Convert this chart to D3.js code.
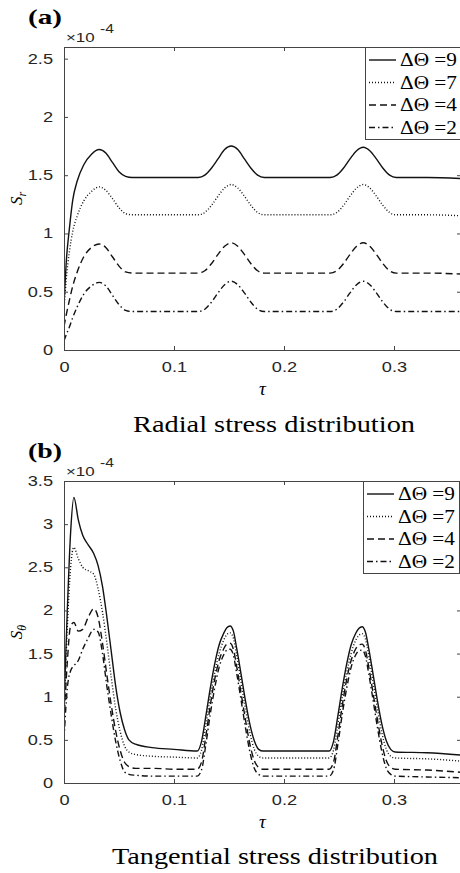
<!DOCTYPE html>
<html>
<head>
<meta charset="utf-8">
<script src="https://cdn.jsdelivr.net/npm/d3@7"></script>
<style>
  body { margin: 0; background: #fff; }
  svg { display: block; }
</style>
</head>
<body>
<div id="chart"></div>
<script>
// ---- data (values in units of 1e-4) ----
var legendLabels = ["\u0394\u0398 =9", "\u0394\u0398 =7", "\u0394\u0398 =4", "\u0394\u0398 =2"];
var xTicks = [0, 0.1, 0.2, 0.3];
var yTicksA = [0, 0.5, 1, 1.5, 2, 2.5];
var yTicksB = [0, 0.5, 1, 1.5, 2, 2.5, 3, 3.5];

var tauA = [0, 0.002, 0.005, 0.008, 0.012, 0.018, 0.025, 0.032, 0.038, 0.044, 0.05, 0.056, 0.062,
  0.09,
  0.122, 0.128, 0.134, 0.14, 0.146, 0.152, 0.158, 0.164, 0.17, 0.176, 0.182,
  0.21,
  0.242, 0.248, 0.254, 0.26, 0.266, 0.272, 0.278, 0.284, 0.29, 0.296, 0.302,
  0.33, 0.365];
var radial9 = [0.40, 0.75, 1.05, 1.29, 1.45, 1.59, 1.68, 1.72, 1.69, 1.61, 1.53, 1.49, 1.48,
  1.48,
  1.48, 1.50, 1.56, 1.64, 1.72, 1.75, 1.72, 1.64, 1.56, 1.50, 1.48,
  1.48,
  1.48, 1.50, 1.56, 1.64, 1.71, 1.74, 1.71, 1.64, 1.56, 1.50, 1.48,
  1.48, 1.47];
var radial7 = [0.35, 0.60, 0.85, 1.02, 1.15, 1.28, 1.36, 1.40, 1.37, 1.30, 1.22, 1.17, 1.16,
  1.16,
  1.16, 1.18, 1.24, 1.32, 1.39, 1.42, 1.39, 1.32, 1.24, 1.18, 1.16,
  1.16,
  1.16, 1.18, 1.24, 1.32, 1.39, 1.42, 1.39, 1.32, 1.24, 1.18, 1.16,
  1.16, 1.15];
var radial4 = [0.20, 0.30, 0.43, 0.55, 0.67, 0.80, 0.88, 0.91, 0.88, 0.80, 0.72, 0.67, 0.66,
  0.66,
  0.66, 0.68, 0.74, 0.82, 0.89, 0.92, 0.89, 0.82, 0.74, 0.68, 0.66,
  0.66,
  0.66, 0.68, 0.74, 0.82, 0.89, 0.92, 0.89, 0.82, 0.74, 0.68, 0.66,
  0.66, 0.65];
var radial2 = [0.08, 0.13, 0.20, 0.28, 0.37, 0.48, 0.55, 0.58, 0.55, 0.47, 0.39, 0.34, 0.33,
  0.33,
  0.33, 0.35, 0.41, 0.49, 0.56, 0.59, 0.56, 0.49, 0.41, 0.35, 0.33,
  0.33,
  0.33, 0.35, 0.41, 0.49, 0.56, 0.59, 0.56, 0.49, 0.41, 0.35, 0.33,
  0.33, 0.33];

var tauB = [0, 0.003, 0.006, 0.009, 0.013, 0.017, 0.022, 0.027, 0.031, 0.035, 0.039, 0.043, 0.047,
  0.051, 0.055, 0.059, 0.065, 0.08, 0.1, 0.121,
  0.125, 0.129, 0.133, 0.137, 0.141, 0.145, 0.148, 0.151, 0.154, 0.157, 0.161, 0.165, 0.169, 0.173, 0.177, 0.181,
  0.21, 0.241,
  0.245, 0.249, 0.253, 0.257, 0.261, 0.265, 0.268, 0.271, 0.274, 0.277, 0.281, 0.285, 0.289, 0.293, 0.297, 0.301,
  0.33, 0.365];
var tang9 = [0.9, 2.0, 2.9, 3.31, 3.05, 2.87, 2.76, 2.66, 2.52, 2.28, 1.92, 1.52, 1.12,
  0.82, 0.62, 0.50, 0.45, 0.41, 0.39, 0.37,
  0.48, 0.78, 1.10, 1.38, 1.60, 1.73, 1.80, 1.82, 1.76, 1.56, 1.26, 0.95, 0.68, 0.49, 0.39, 0.37,
  0.37, 0.37,
  0.48, 0.78, 1.10, 1.38, 1.60, 1.73, 1.79, 1.81, 1.75, 1.56, 1.26, 0.95, 0.68, 0.49, 0.39, 0.36,
  0.35, 0.32];
var tang7 = [0.8, 1.8, 2.5, 2.73, 2.60, 2.50, 2.46, 2.42, 2.25, 1.98, 1.62, 1.22, 0.86,
  0.60, 0.43, 0.36, 0.33, 0.31, 0.30, 0.29,
  0.38, 0.68, 1.00, 1.28, 1.50, 1.65, 1.72, 1.74, 1.68, 1.48, 1.17, 0.86, 0.58, 0.39, 0.31, 0.29,
  0.29, 0.29,
  0.38, 0.68, 1.00, 1.28, 1.50, 1.65, 1.71, 1.73, 1.67, 1.48, 1.17, 0.86, 0.58, 0.39, 0.31, 0.29,
  0.28, 0.25];
var tang4 = [0.7, 1.4, 1.82, 1.86, 1.76, 1.78, 1.92, 2.02, 1.92, 1.62, 1.25, 0.90, 0.60,
  0.38, 0.24, 0.19, 0.17, 0.17, 0.16, 0.16,
  0.24, 0.55, 0.90, 1.20, 1.42, 1.55, 1.61, 1.62, 1.55, 1.35, 1.04, 0.73, 0.45, 0.26, 0.18, 0.16,
  0.16, 0.16,
  0.24, 0.55, 0.90, 1.20, 1.42, 1.55, 1.60, 1.61, 1.54, 1.35, 1.04, 0.73, 0.45, 0.26, 0.18, 0.16,
  0.15, 0.12];
var tang2 = [0.5, 1.1, 1.30, 1.36, 1.42, 1.55, 1.68, 1.78, 1.75, 1.50, 1.12, 0.78, 0.48,
  0.26, 0.13, 0.10, 0.09, 0.08, 0.08, 0.08,
  0.15, 0.45, 0.80, 1.10, 1.34, 1.48, 1.54, 1.55, 1.48, 1.27, 0.96, 0.64, 0.36, 0.17, 0.10, 0.08,
  0.08, 0.08,
  0.15, 0.45, 0.80, 1.10, 1.34, 1.48, 1.53, 1.54, 1.47, 1.27, 0.96, 0.64, 0.36, 0.17, 0.10, 0.08,
  0.07, 0.06];

var dashes = [null, "1,2", "7,4", "6,3,1.5,3"];
var sansFont = "'Liberation Sans', Arial, Helvetica, sans-serif";
var serifFont = "'Liberation Serif', 'Times New Roman', Times, serif";

var width = 460, height = 873;
var svg = d3.select("#chart").append("svg")
    .attr("width", width)
    .attr("height", height);

// the figure is stretched sideways, so widen text to match
function widen(sel, k) {
    sel.each(function() {
        var len = this.getComputedTextLength();
        if (len > 0) {
            d3.select(this).attr("textLength", len * k).attr("lengthAdjust", "spacingAndGlyphs");
        }
    });
}

function panel(opt) {
    var left = 64, right = 461;
    var x = d3.scaleLinear().domain([0, (right - left) / 1100]).range([left, right]);
    var y = d3.scaleLinear().domain([0, opt.ymax]).range([opt.bottom, opt.top]);
    var g = svg.append("g");

    g.append("clipPath").attr("id", "clip" + opt.id)
        .append("rect")
        .attr("x", left).attr("y", opt.top)
        .attr("width", right - left).attr("height", opt.bottom - opt.top);

    var line = d3.line()
        .x(function(d) { return x(d[0]); })
        .y(function(d) { return y(d[1]); })
        .curve(d3.curveMonotoneX);

    var plot = g.append("g").attr("clip-path", "url(#clip" + opt.id + ")");
    opt.series.forEach(function(vals, i) {
        plot.append("path")
            .datum(vals.map(function(v, k) { return [opt.tau[k], v]; }))
            .attr("d", line)
            .attr("fill", "none")
            .attr("stroke", "#111")
            .attr("stroke-width", 1.4)
            .attr("stroke-dasharray", dashes[i]);
    });

    // axes (box with inner ticks)
    var fmt = function(d) { return d3.format("")(d); };
    function styleAxis(sel) {
        sel.selectAll(".domain").attr("stroke", "#444").attr("stroke-width", 1);
        sel.selectAll(".tick line").attr("stroke", "#444");
        sel.selectAll(".tick text")
            .attr("font-family", sansFont)
            .attr("font-size", 14)
            .attr("fill", "#262626")
            .call(widen, 1.3);
    }
    g.append("g").attr("transform", "translate(" + left + ",0)")
        .call(d3.axisLeft(y).tickValues(opt.yticks).tickFormat(fmt).tickSizeInner(-4).tickSizeOuter(0).tickPadding(11))
        .call(styleAxis);
    g.append("g").attr("transform", "translate(" + right + ",0)")
        .call(d3.axisRight(y).tickValues(opt.yticks).tickFormat("").tickSizeInner(-4).tickSizeOuter(0))
        .call(styleAxis);
    g.append("g").attr("transform", "translate(0," + opt.bottom + ")")
        .call(d3.axisBottom(x).tickValues(xTicks).tickFormat(fmt).tickSizeInner(-4).tickSizeOuter(0).tickPadding(12))
        .call(styleAxis);
    g.append("g").attr("transform", "translate(0," + opt.top + ")")
        .call(d3.axisTop(x).tickValues(xTicks).tickFormat("").tickSizeInner(-4).tickSizeOuter(0))
        .call(styleAxis);

    // exponent
    var ex = g.append("text")
        .attr("x", left + 2).attr("y", opt.top - 5)
        .attr("font-family", sansFont)
        .attr("font-size", 13).attr("fill", "#262626");
    ex.append("tspan").attr("class", "ex").text("\u00d710");
    ex.append("tspan").attr("class", "ex").attr("x", left + 36).attr("dy", -9).attr("font-size", 12).text("-4");
    ex.selectAll("tspan.ex").call(widen, 1.3);

    // panel letter
    g.append("text")
        .attr("x", 28).attr("y", opt.top - 23)
        .attr("font-family", serifFont)
        .attr("font-weight", "bold")
        .attr("font-size", 21)
        .attr("textLength", 34)
        .attr("lengthAdjust", "spacingAndGlyphs")
        .text(opt.letter);

    // y label
    var yl = g.append("text")
        .attr("transform", "translate(22," + ((opt.top + opt.bottom) / 2) + ") rotate(-90)")
        .attr("text-anchor", "middle")
        .attr("font-family", serifFont)
        .attr("font-style", "italic")
        .attr("font-size", 17);
    yl.append("tspan").text("S");
    yl.append("tspan").attr("dy", 4).attr("font-size", 12).text(opt.sub);

    // x label
    g.append("text")
        .attr("x", (left + right) / 2).attr("y", opt.bottom + 45)
        .attr("text-anchor", "middle")
        .attr("font-family", serifFont)
        .attr("font-style", "italic")
        .attr("font-size", 19)
        .text("\u03c4");

    // caption
    g.append("text")
        .attr("x", opt.capX).attr("y", opt.capY)
        .attr("font-family", serifFont)
        .attr("font-size", 23)
        .attr("textLength", opt.capW)
        .attr("lengthAdjust", "spacingAndGlyphs")
        .text(opt.caption);

    // legend
    var lg = g.append("g");
    lg.append("rect")
        .attr("x", opt.legX + 0.5).attr("y", opt.top + 0.5)
        .attr("width", opt.legW).attr("height", 92)
        .attr("fill", "#fff").attr("stroke", "#444").attr("stroke-width", 1);
    legendLabels.forEach(function(lab, i) {
        var cy = opt.top + 13 + i * 22.5;
        lg.append("line")
            .attr("x1", opt.legX + 4).attr("x2", opt.legX + 31)
            .attr("y1", cy).attr("y2", cy)
            .attr("stroke", "#111").attr("stroke-width", 1.4)
            .attr("stroke-dasharray", dashes[i]);
        lg.append("text")
            .attr("x", opt.legX + 35).attr("y", cy + 6)
            .attr("font-family", serifFont)
            .attr("font-size", 18)
            .attr("textLength", 57)
            .attr("lengthAdjust", "spacingAndGlyphs")
            .text(lab);
    });
}

panel({
    id: "a", letter: "(a)", top: 47, bottom: 350, ymax: 2.6, yticks: yTicksA,
    tau: tauA, series: [radial9, radial7, radial4, radial2], sub: "r",
    caption: "Radial stress distribution", capX: 133, capY: 432, capW: 282,
    legX: 365, legW: 100
});
panel({
    id: "b", letter: "(b)", top: 481, bottom: 783, ymax: 3.5, yticks: yTicksB,
    tau: tauB, series: [tang9, tang7, tang4, tang2], sub: "\u03b8",
    caption: "Tangential stress distribution", capX: 112, capY: 864, capW: 326,
    legX: 363, legW: 96
});
</script>
</body>
</html>
